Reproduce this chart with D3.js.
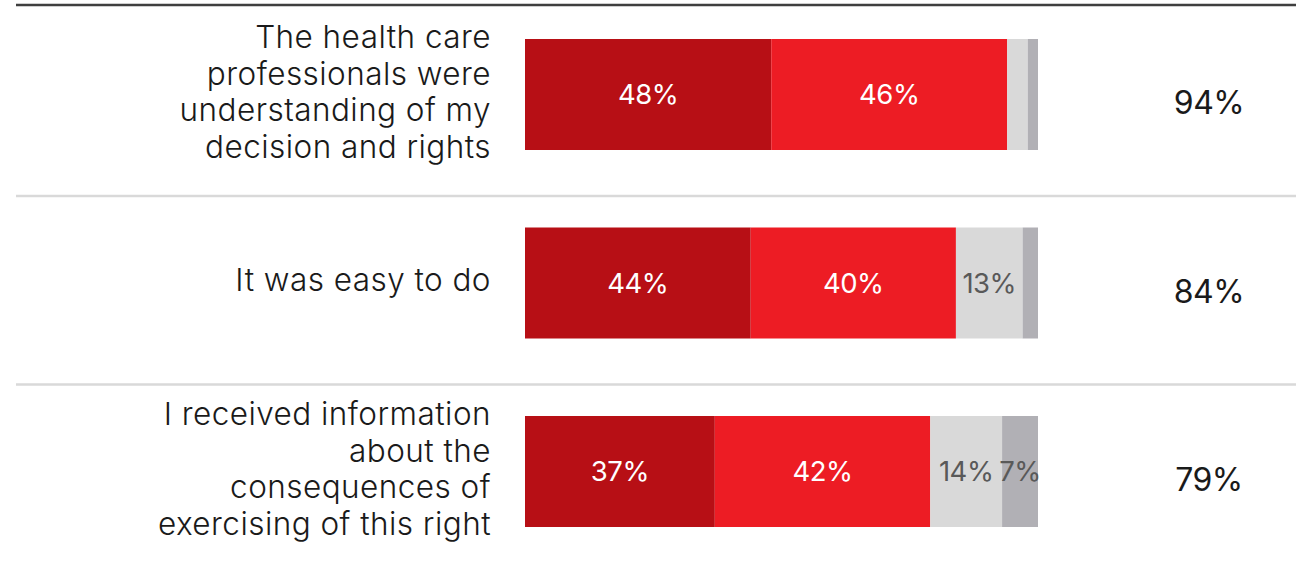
<!DOCTYPE html>
<html>
<head>
<meta charset="utf-8">
<script src="https://cdn.jsdelivr.net/npm/d3@7"></script>
<style>
  html, body { margin: 0; padding: 0; background: #fff; }
  svg { display: block; }
  text { font-family: "Inter", "Roboto", sans-serif; }
</style>
</head>
<body>
<svg id="chart" width="1301" height="571"></svg>
<script>
// ---- data ----
const categories = [
  "The health care professionals were understanding of my decision and rights",
  "It was easy to do",
  "I received information about the consequences of exercising of this right"
];
const categoryLines = [
  ["The health care", "professionals were", "understanding of my", "decision and rights"],
  ["It was easy to do"],
  ["I received information", "about the", "consequences of", "exercising of this right"]
];
const seriesNames = ["Strongly agree", "Agree", "Disagree", "Strongly disagree"];
const stronglyAgree = [48, 44, 37];
const agree = [46, 40, 42];
const disagree = [4, 13, 14];
const stronglyDisagree = [2, 3, 7];
const totalAgree = [94, 84, 79];

const colors = ["#b70f15", "#ed1c24", "#d9d9d9", "#b1b0b5"];
const labelColors = ["#ffffff", "#ffffff", "#595959", "#595959"];

// ---- build ----
const seriesValues = [stronglyAgree, agree, disagree, stronglyDisagree];
const rows = categories.map((c, i) => {
  const r = { cat: c };
  seriesNames.forEach((s, j) => r[s] = seriesValues[j][i]);
  return r;
});
const stack = d3.stack().keys(seriesNames)(rows);

const svg = d3.select("#chart");
const x = d3.scaleLinear().domain([0, 100]).range([525, 1038]);
const y = d3.scaleBand().domain(categories).range([0.25, 565.75]);
const barH = 111;
const barY = c => y(c) + (y.bandwidth() - barH) / 2;

// top rule
svg.append("line")
  .attr("x1", 16).attr("x2", 1296).attr("y1", 5).attr("y2", 5)
  .attr("stroke", "#3f3f3f").attr("stroke-width", 2.5);

// separators
categories.slice(0, -1).forEach(c => {
  const sy = barY(c) + barH + 46;
  svg.append("line")
    .attr("x1", 16).attr("x2", 1296).attr("y1", sy).attr("y2", sy)
    .attr("stroke", "#d9d9d9").attr("stroke-width", 2.5);
});

// bars
const g = svg.append("g");
stack.forEach((layer, j) => {
  const lg = g.append("g");
  lg.selectAll("rect").data(layer).join("rect")
    .attr("x", d => x(d[0]))
    .attr("width", d => x(d[1]) - x(d[0]))
    .attr("y", d => barY(d.data.cat))
    .attr("height", barH)
    .attr("fill", colors[j]);
  lg.selectAll("text").data(layer.filter(d => d[1] - d[0] >= 5)).join("text")
    .attr("x", d => (x(d[0]) + x(d[1])) / 2)
    .attr("y", d => barY(d.data.cat) + barH / 2)
    .attr("dy", "0.36em")
    .attr("text-anchor", "middle")
    .attr("font-size", 27.5)
    .attr("font-weight", 400)
    .attr("letter-spacing", -0.5)
    .attr("fill", labelColors[j])
    .text(d => (d[1] - d[0]) + "%");
});

// category labels
const lineH = 36.5;
categories.forEach((c, i) => {
  const lines = categoryLines[i];
  const cy = barY(c) + barH / 2 - 3;
  const t = svg.append("text")
    .attr("text-anchor", "end")
    .attr("font-size", 31.5)
    .attr("font-weight", 300)
    .attr("letter-spacing", 0.45)
    .attr("fill", "#1a1a1a");
  lines.forEach((ln, k) => {
    t.append("tspan")
      .attr("x", 491)
      .attr("y", cy + (k - (lines.length - 1) / 2) * lineH)
      .attr("dy", "0.36em")
      .text(ln);
  });
});

// totals
svg.selectAll("text.total").data(categories).join("text")
  .attr("class", "total")
  .attr("x", 1209)
  .attr("y", (c) => barY(c) + barH / 2 + 8)
  .attr("dy", "0.36em")
  .attr("text-anchor", "middle")
  .attr("font-size", 32)
  .attr("font-weight", 400)
  .attr("letter-spacing", -0.5)
  .attr("fill", "#1a1a1a")
  .text((c, i) => totalAgree[i] + "%");
</script>
</body>
</html>
